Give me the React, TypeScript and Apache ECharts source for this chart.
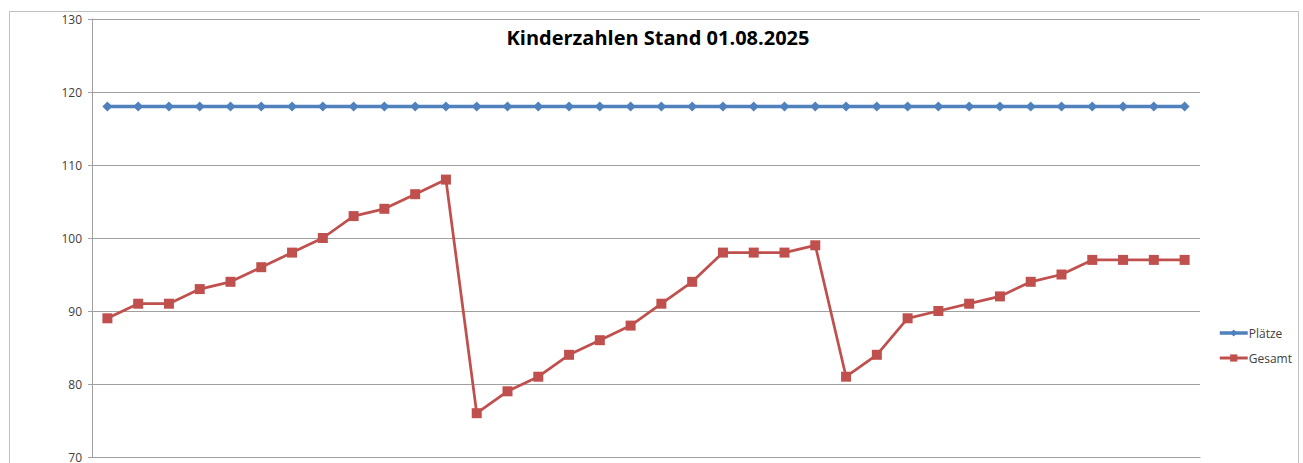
import React, { useEffect, useRef } from "react";
import * as echarts from "echarts";

const categories: string[] = Array.from({ length: 36 }, (_, i) => String(i + 1));
const plaetze: number[] = [
  118, 118, 118, 118, 118, 118, 118, 118, 118, 118, 118, 118,
  118, 118, 118, 118, 118, 118, 118, 118, 118, 118, 118, 118,
  118, 118, 118, 118, 118, 118, 118, 118, 118, 118, 118, 118,
];
const gesamt: number[] = [
  89, 91, 91, 93, 94, 96, 98, 100, 103, 104, 106, 108,
  76, 79, 81, 84, 86, 88, 91, 94, 98, 98, 98, 99,
  81, 84, 89, 90, 91, 92, 94, 95, 97, 97, 97, 97,
];
const title = "Kinderzahlen Stand 01.08.2025";

export default function App() {
  const ref = useRef<HTMLDivElement>(null);
  useEffect(() => {
    if (!ref.current) return;
    const chart = echarts.init(ref.current, undefined, { renderer: "svg" });
    chart.setOption({
      animation: false,
      backgroundColor: "#ffffff",
      textStyle: { fontFamily: "Open Sans" },
      title: {
        text: title,
        left: 653,
        textAlign: "center",
        top: 22,
        textStyle: { fontSize: 20, fontWeight: "bold", color: "#000000", fontFamily: "Open Sans" },
      },
      graphic: [
        {
          type: "rect",
          shape: { x: 9.5, y: 11.5, width: 1289, height: 500 },
          style: { fill: "none", stroke: "#bfbfbf", lineWidth: 1 },
          silent: true,
          z: -1,
        },
      ],
      legend: {
        orient: "vertical",
        left: 1213,
        top: 322,
        itemWidth: 28,
        itemHeight: 9,
        itemGap: 13,
        textStyle: { fontSize: 12, color: "#404040", padding: [0, 0, 0, -4] },
        data: [
          { name: "Plätze", lineStyle: { width: 3.5 } },
          { name: "Gesamt", lineStyle: { width: 3 } },
        ],
      },
      grid: { left: 92, top: 19, width: 1108, height: 438, containLabel: false },
      xAxis: {
        type: "category",
        data: categories,
        boundaryGap: true,
        axisLine: { show: true, lineStyle: { color: "#a0a0a0" } },
        axisTick: { show: false },
        axisLabel: { show: false },
      },
      yAxis: {
        type: "value",
        min: 70,
        max: 130,
        interval: 10,
        axisLine: { show: true, lineStyle: { color: "#a0a0a0" } },
        axisTick: { show: true, length: 4, lineStyle: { color: "#a0a0a0" } },
        axisLabel: { fontSize: 12, color: "#404040", margin: 10 },
        splitLine: { lineStyle: { color: "#a0a0a0", width: 1 } },
      },
      series: [
        {
          name: "Plätze",
          type: "line",
          data: plaetze,
          symbol: "diamond",
          symbolSize: 10,
          lineStyle: { color: "#4f81bd", width: 3.5 },
          itemStyle: { color: "#4f81bd" },
        },
        {
          name: "Gesamt",
          type: "line",
          data: gesamt,
          symbol: "rect",
          symbolSize: 10,
          lineStyle: { color: "#c0504d", width: 2.75 },
          itemStyle: { color: "#c0504d" },
        },
      ],
    });
    return () => chart.dispose();
  }, []);
  return (
    <div
      ref={ref}
      style={{ position: "fixed", left: 0, top: 0, width: 1303, height: 463 }}
    />
  );
}
